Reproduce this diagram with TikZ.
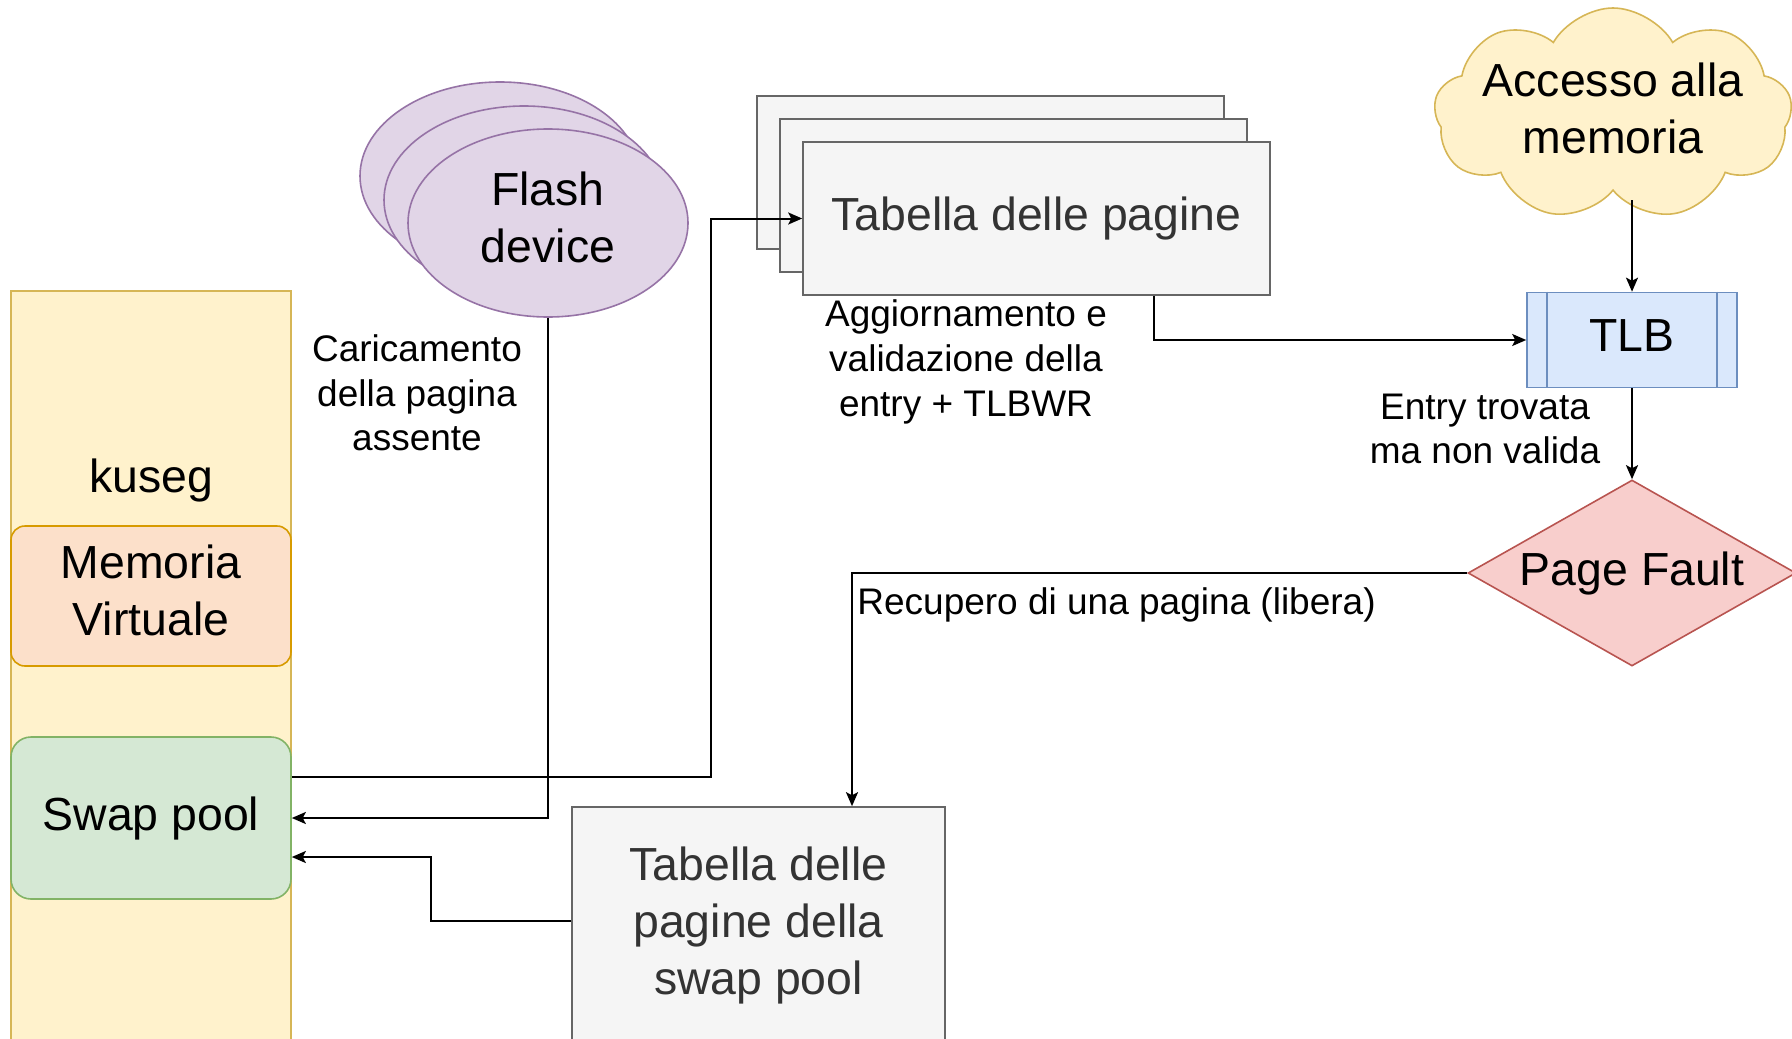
\documentclass[tikz,border=0pt]{standalone}
\usepackage{fontspec}
\setmainfont{Liberation Sans}
\usetikzlibrary{shapes.geometric,shapes.symbols,arrows.meta,calc}

\definecolor{yelfill}{HTML}{FFF2CC}
\definecolor{yeldraw}{HTML}{D6B656}
\definecolor{orafill}{HTML}{FCE0CA}
\definecolor{oradraw}{HTML}{D79B00}
\definecolor{grnfill}{HTML}{D5E8D4}
\definecolor{grndraw}{HTML}{82B366}
\definecolor{purfill}{HTML}{E1D5E7}
\definecolor{purdraw}{HTML}{9673A6}
\definecolor{gryfill}{HTML}{F5F5F5}
\definecolor{grydraw}{HTML}{666666}
\definecolor{grytext}{HTML}{333333}
\definecolor{blufill}{HTML}{DAE8FC}
\definecolor{bludraw}{HTML}{6C8EBF}
\definecolor{redfill}{HTML}{F8CECC}
\definecolor{reddraw}{HTML}{B85450}

\newcommand{\bigtxt}{\fontsize{23.2}{28.5}\selectfont}
\newcommand{\smalltxt}{\fontsize{18.5}{22.3}\selectfont}
% text lifted a bit inside its shape
\newcommand{\liftlines}[2]{\raisebox{#1}{\begin{tabular}{@{}c@{}}#2\end{tabular}}}

\tikzset{
    >={Stealth[length=7pt,width=6pt,inset=1.5pt]},
    conn/.style={line width=1pt,->},
    memseg/.style={draw=#1draw,fill=#1fill,line width=0.8pt,minimum width=140pt,
        align=center,font=\bigtxt,inner sep=0pt},
    flash/.style={ellipse,draw=purdraw,fill=purfill,line width=0.8pt,minimum width=140pt,
        minimum height=94pt,align=center,font=\bigtxt,inner sep=0pt},
    tabbox/.style={draw=grydraw,fill=gryfill,line width=0.8pt,minimum width=233.5pt,
        minimum height=76.5pt,align=center,font=\bigtxt,text=grytext,inner sep=0pt},
    lbl/.style={align=center,font=\smalltxt,inner sep=0pt}
}

\begin{document}
\begin{tikzpicture}[x=0.5pt,y=-0.5pt]
    \useasboundingbox (0,0) rectangle (1792,1038);
    \clip (0,0) rectangle (1792,1038);

    % kuseg
    \node[memseg=yel,minimum height=379pt] (kuseg) at (151,670) {};
    \node[font=\bigtxt] (kusegtxt) at (151,480) {kuseg};
    \node[memseg=ora,rounded corners=7pt,minimum height=70pt] (virt) at (151,596) {\liftlines{2.9pt}{Memoria\\Virtuale}};
    \node[memseg=grn,rounded corners=10pt,minimum height=81pt] (swap) at (151,818) {Swap pool};

    % flash device
    \node[flash] (flashB) at (500,176) {};
    \node[flash] (flashM) at (524,200) {};
    \node[flash] (flash) at (548,223) {\liftlines{3.5pt}{Flash\\device}};

    % tabella delle pagine
    \node[tabbox] (tabB) at (990.5,172.5) {};
    \node[tabbox] (tabM) at (1013.5,195.5) {};
    \node[tabbox] (tab) at (1036.5,218.5) {Tabella delle pagine};
    \node[tabbox,minimum width=186.5pt,minimum height=119pt] (swtab) at (758.5,926) {\liftlines{5.5pt}{Tabella delle\\pagine della\\swap pool}};

    \node[cloud,cloud puffs=9,cloud puff arc=120,cloud ignores aspect,draw=yeldraw,fill=yelfill,
        line width=0.8pt,minimum width=179pt,minimum height=106pt,align=center,font=\bigtxt,
        inner sep=-16pt] (cloud) at (1613,114) {\liftlines{9pt}{Accesso alla\\memoria}};
    \node[draw=bludraw,fill=blufill,line width=0.8pt,minimum width=105pt,minimum height=47.5pt,
        font=\bigtxt] (tlb) at (1632,340) {\liftlines{2.5pt}{TLB}};
    \draw[bludraw,line width=0.8pt] ($(tlb.north west)+(21,0)$) -- ($(tlb.south west)+(21,0)$);
    \draw[bludraw,line width=0.8pt] ($(tlb.north east)+(-21,0)$) -- ($(tlb.south east)+(-21,0)$);
    \node[diamond,aspect=1.76,draw=reddraw,fill=redfill,line width=0.8pt,minimum width=164pt,
        minimum height=93pt,inner sep=0pt,font=\bigtxt] (pf) at (1632,573) {Page Fault};

    % labels
    \node[lbl] (lblload) at (417,393) {Caricamento\\della pagina\\assente};
    \node[lbl] (lblupd) at (966,362) {Aggiornamento e\\validazione della\\entry + TLBWR};
    \node[lbl] (lblentry) at (1485,429) {Entry trovata\\ma non valida};
    \node[lbl,anchor=west] (lblrec) at (857,605) {Recupero di una pagina (libera)};

    \coordinate (turnA) at (711,0);
    \coordinate (turnB) at (431,0);
    \coordinate (swapin) at ($(swap.east)+(0,39)$);

    \draw[conn] (tlb.north |- cloud.-84) -- (tlb.north);
    \draw[conn] (tlb.south) -- (pf.north);
    \draw[conn] (pf.west) -| ($(swtab.north)+(93.5,0)$);
    \draw[conn] ($(tab.south)+(117.5,0)$) |- (tlb.west);
    \draw[conn] ($(swap.east)+(0,-41)$) -| (turnA |- tab.west) -- (tab.west);
    \draw[conn] (flash.south) |- (swap.east);
    \draw[conn] ($(swtab.west)+(0,-5)$) -| (turnB |- swapin) -- (swapin);

\end{tikzpicture}
\end{document}
